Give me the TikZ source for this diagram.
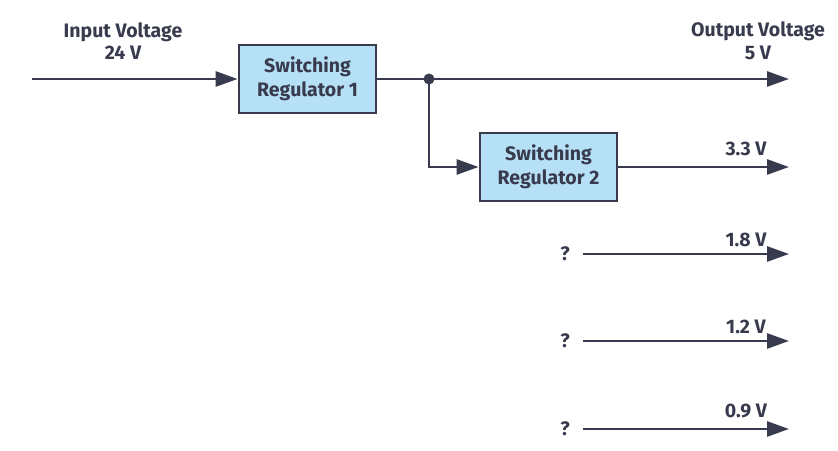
\documentclass[tikz,border=0pt]{standalone}
\usepackage{fontspec}
\setmainfont{Fira Sans}
\usetikzlibrary{arrows.meta}
\definecolor{ink}{RGB}{56,59,77}
\definecolor{boxfill}{RGB}{182,224,246}
\tikzset{
  regbox/.style={draw=ink, line width=2.8pt, fill=boxfill, minimum width=137pt, minimum height=68pt, inner sep=0pt, align=center, font=\fontsize{19.5}{24}\selectfont\bfseries, text=ink},
  lbl/.style={font=\fontsize{19.5}{22.5}\selectfont\bfseries, text=ink, align=center, inner sep=0pt},
  wire/.style={draw=ink, line width=2.8pt},
  arr/.style={wire, -{Triangle[length=22pt, width=15pt]}},
}
\begin{document}
\begin{tikzpicture}[x=1pt, y=-1pt]
\useasboundingbox (0,0) rectangle (838,450);
\node[regbox] (r1) at (307.5,79) {Switching\\Regulator 1};
\node[regbox] (r2) at (548.5,167) {Switching\\Regulator 2};
\coordinate (in) at (32,79);
\coordinate (o5) at (789,79);
\coordinate (o33) at (789,167);
\coordinate (j) at (429,79);
\node[lbl] (inl) at (123,41) {Input Voltage\\24 V};
\node[lbl] (outl) at (758,41) {Output Voltage\\5 V};
\node[lbl] (l33) at (746,149) {3.3 V};
\draw[arr] (in) -- (r1.west);
\draw[arr] (r1.east) -- (o5);
\draw[arr] (j) |- (r2.west);
\fill[ink] (j) circle (5.5pt);
\draw[arr] (r2.east) -- (o33);
\foreach \y/\ly/\v/\n in {254/240/1.8/a, 341/327/1.2/b, 429/411/0.9/c} {
  \node[lbl] (q\n) at (565,\y) {?};
  \coordinate (s\n) at (583,\y);
  \coordinate (e\n) at (789,\y);
  \node[lbl] (v\n) at (746,\ly) {\v\ V};
  \draw[arr] (s\n) -- (e\n);
}
\end{tikzpicture}
\end{document}
